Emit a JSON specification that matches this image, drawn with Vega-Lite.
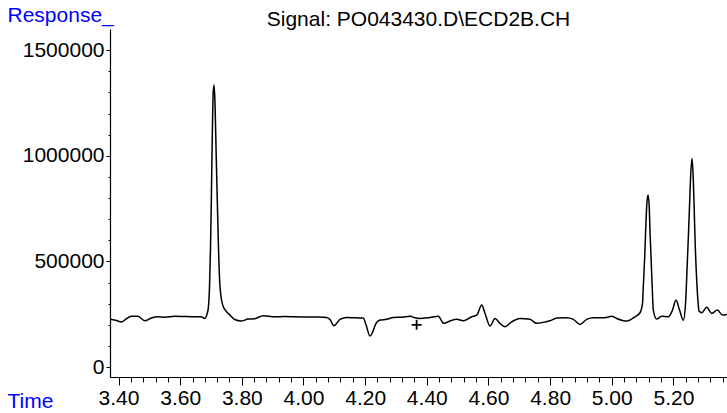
{
  "$schema": "https://vega.github.io/schema/vega-lite/v6.json",
  "width": 617,
  "height": 348,
  "autosize": {"type": "none"},
  "padding": {"left": 110, "top": 29, "right": 0, "bottom": 36},
  "background": "white",
  "config": {
    "view": {"stroke": null},
    "font": "Liberation Sans",
    "axis": {"grid": false, "domainColor": "black", "tickColor": "black", "labelColor": "black", "labelFont": "Liberation Sans", "titleFont": "Liberation Sans", "labelFontWeight": "normal", "titleFontWeight": "normal"}
  },
  "title": {
    "text": "Signal: PO043430.D\\ECD2B.CH",
    "anchor": "middle",
    "frame": "group",
    "font": "Liberation Sans",
    "fontSize": 21,
    "fontWeight": "normal",
    "color": "black",
    "baseline": "alphabetic",
    "offset": -43
  },
  "datasets": {
    "trace": [
      {"t": 3.3724, "v": 225800},
      {"t": 3.3900, "v": 222000},
      {"t": 3.4091, "v": 213000},
      {"t": 3.4250, "v": 228000},
      {"t": 3.4415, "v": 241000},
      {"t": 3.4633, "v": 240000},
      {"t": 3.4850, "v": 219000},
      {"t": 3.5064, "v": 232000},
      {"t": 3.5281, "v": 238000},
      {"t": 3.5500, "v": 236000},
      {"t": 3.5823, "v": 240000},
      {"t": 3.6200, "v": 239000},
      {"t": 3.6686, "v": 238000},
      {"t": 3.6796, "v": 230000},
      {"t": 3.6880, "v": 255000},
      {"t": 3.6913, "v": 280000},
      {"t": 3.6952, "v": 380000},
      {"t": 3.6984, "v": 560000},
      {"t": 3.7010, "v": 785000},
      {"t": 3.7043, "v": 1100000},
      {"t": 3.7072, "v": 1300000},
      {"t": 3.7098, "v": 1335000},
      {"t": 3.7130, "v": 1250000},
      {"t": 3.7169, "v": 1000000},
      {"t": 3.7205, "v": 785000},
      {"t": 3.7244, "v": 560000},
      {"t": 3.7292, "v": 380000},
      {"t": 3.7380, "v": 293000},
      {"t": 3.7510, "v": 261000},
      {"t": 3.7617, "v": 246000},
      {"t": 3.7769, "v": 225000},
      {"t": 3.7983, "v": 217700},
      {"t": 3.8200, "v": 227000},
      {"t": 3.8418, "v": 228600},
      {"t": 3.8687, "v": 243000},
      {"t": 3.9066, "v": 238000},
      {"t": 3.9400, "v": 239000},
      {"t": 3.9715, "v": 238000},
      {"t": 4.0364, "v": 236700},
      {"t": 4.0753, "v": 235000},
      {"t": 4.0860, "v": 225000},
      {"t": 4.0990, "v": 195500},
      {"t": 4.1184, "v": 225800},
      {"t": 4.1402, "v": 235000},
      {"t": 4.1700, "v": 233000},
      {"t": 4.1940, "v": 232000},
      {"t": 4.2028, "v": 200000},
      {"t": 4.2158, "v": 146700},
      {"t": 4.2255, "v": 170000},
      {"t": 4.2352, "v": 206800},
      {"t": 4.2482, "v": 222500},
      {"t": 4.2699, "v": 225800},
      {"t": 4.2913, "v": 235000},
      {"t": 4.3200, "v": 236000},
      {"t": 4.3455, "v": 240000},
      {"t": 4.3617, "v": 233300},
      {"t": 4.3780, "v": 230000},
      {"t": 4.4104, "v": 235000},
      {"t": 4.4373, "v": 240000},
      {"t": 4.4548, "v": 206800},
      {"t": 4.4765, "v": 219000},
      {"t": 4.4970, "v": 225800},
      {"t": 4.5184, "v": 219000},
      {"t": 4.5456, "v": 238000},
      {"t": 4.5619, "v": 246000},
      {"t": 4.5781, "v": 293400},
      {"t": 4.5888, "v": 254000},
      {"t": 4.6050, "v": 194000},
      {"t": 4.6212, "v": 230000},
      {"t": 4.6374, "v": 207000},
      {"t": 4.6536, "v": 190700},
      {"t": 4.6754, "v": 214000},
      {"t": 4.7023, "v": 230000},
      {"t": 4.7347, "v": 225800},
      {"t": 4.7565, "v": 207000},
      {"t": 4.7779, "v": 211500},
      {"t": 4.7996, "v": 219000},
      {"t": 4.8213, "v": 232000},
      {"t": 4.8538, "v": 233000},
      {"t": 4.8752, "v": 225800},
      {"t": 4.8969, "v": 202000},
      {"t": 4.9186, "v": 225800},
      {"t": 4.9400, "v": 233000},
      {"t": 4.9618, "v": 233000},
      {"t": 4.9835, "v": 235000},
      {"t": 4.9997, "v": 241000},
      {"t": 5.0159, "v": 230000},
      {"t": 5.0484, "v": 217700},
      {"t": 5.0753, "v": 238000},
      {"t": 5.0915, "v": 257000},
      {"t": 5.0996, "v": 300000},
      {"t": 5.1022, "v": 380000},
      {"t": 5.1045, "v": 450000},
      {"t": 5.1068, "v": 525000},
      {"t": 5.1100, "v": 650000},
      {"t": 5.1136, "v": 770000},
      {"t": 5.1175, "v": 814000},
      {"t": 5.1214, "v": 760000},
      {"t": 5.1240, "v": 640000},
      {"t": 5.1272, "v": 525000},
      {"t": 5.1311, "v": 380000},
      {"t": 5.1347, "v": 270000},
      {"t": 5.1457, "v": 227000},
      {"t": 5.1619, "v": 241000},
      {"t": 5.1833, "v": 238000},
      {"t": 5.1970, "v": 270000},
      {"t": 5.2083, "v": 317000},
      {"t": 5.2197, "v": 270000},
      {"t": 5.2320, "v": 222000},
      {"t": 5.2392, "v": 300000},
      {"t": 5.2440, "v": 460000},
      {"t": 5.2482, "v": 610000},
      {"t": 5.2521, "v": 760000},
      {"t": 5.2563, "v": 920000},
      {"t": 5.2602, "v": 987600},
      {"t": 5.2641, "v": 900000},
      {"t": 5.2673, "v": 750000},
      {"t": 5.2699, "v": 612000},
      {"t": 5.2748, "v": 430000},
      {"t": 5.2797, "v": 310000},
      {"t": 5.2829, "v": 265000},
      {"t": 5.2917, "v": 257000},
      {"t": 5.3079, "v": 282600},
      {"t": 5.3241, "v": 254000},
      {"t": 5.3423, "v": 269800},
      {"t": 5.3598, "v": 246000},
      {"t": 5.3737, "v": 249000}
    ],
    "marker": [
      {"t": 4.367, "v": 200000}
    ]
  },
  "layer": [
    {
      "data": {"name": "trace"},
      "mark": {"type": "line", "color": "black", "strokeWidth": 1.5, "interpolate": "monotone", "clip": true},
      "encoding": {
        "x": {
          "field": "t",
          "type": "quantitative",
          "scale": {"domain": [3.3724, 5.3737], "nice": false, "zero": false},
          "axis": {
            "title": "Time",
            "titleColor": "#0000ff",
            "titleFontSize": 21,
            "titleAlign": "left",
            "titleBaseline": "alphabetic",
            "titleX": -103,
            "titleY": 30,
            "tickCount": 200,
            "values": [3.40, 3.44, 3.48, 3.52, 3.56, 3.60, 3.64, 3.68, 3.72, 3.76, 3.80, 3.84, 3.88, 3.92, 3.96, 4.00, 4.04, 4.08, 4.12, 4.16, 4.20, 4.24, 4.28, 4.32, 4.36, 4.40, 4.44, 4.48, 4.52, 4.56, 4.60, 4.64, 4.68, 4.72, 4.76, 4.80, 4.84, 4.88, 4.92, 4.96, 5.00, 5.04, 5.08, 5.12, 5.16, 5.20, 5.24, 5.28, 5.32, 5.36],
            "labelExpr": "abs(datum.value * 5 - round(datum.value * 5)) < 0.001 ? format(datum.value, '.2f') : ''",
            "labelOverlap": false,
            "labelFlush": false,
            "labelBound": false,
            "labelFontSize": 21,
            "labelPadding": 2,
            "tickSize": {"condition": {"test": "abs(datum.value * 5 - round(datum.value * 5)) < 0.001", "value": 8}, "value": 5},
            "tickWidth": 1,
            "domainWidth": 1.2
          }
        },
        "y": {
          "field": "v",
          "type": "quantitative",
          "scale": {"domain": [-47000, 1600000], "nice": false, "zero": false},
          "axis": {
            "title": "Response_",
            "titleColor": "#0000ff",
            "titleFontSize": 21,
            "titleAngle": 0,
            "titleAlign": "left",
            "titleBaseline": "alphabetic",
            "titleX": -103,
            "titleY": -8,
            "tickCount": 200,
            "values": [0, 100000, 200000, 300000, 400000, 500000, 600000, 700000, 800000, 900000, 1000000, 1100000, 1200000, 1300000, 1400000, 1500000],
            "labelExpr": "datum.value % 500000 == 0 ? format(datum.value, 'd') : ''",
            "labelOverlap": false,
            "labelFlush": false,
            "labelBound": false,
            "labelFontSize": 21,
            "labelPadding": 2,
            "tickSize": {"condition": {"test": "datum.value % 500000 == 0", "value": 4}, "value": 2},
            "tickWidth": 1,
            "domainWidth": 1.2
          }
        }
      }
    },
    {
      "data": {"name": "marker"},
      "mark": {"type": "point", "shape": "M -1 0 L 1 0 M 0 -1 L 0 1", "filled": false, "stroke": "black", "strokeWidth": 1.8, "size": 100, "opacity": 1},
      "encoding": {
        "x": {"field": "t", "type": "quantitative"},
        "y": {"field": "v", "type": "quantitative"}
      }
    }
  ]
}
